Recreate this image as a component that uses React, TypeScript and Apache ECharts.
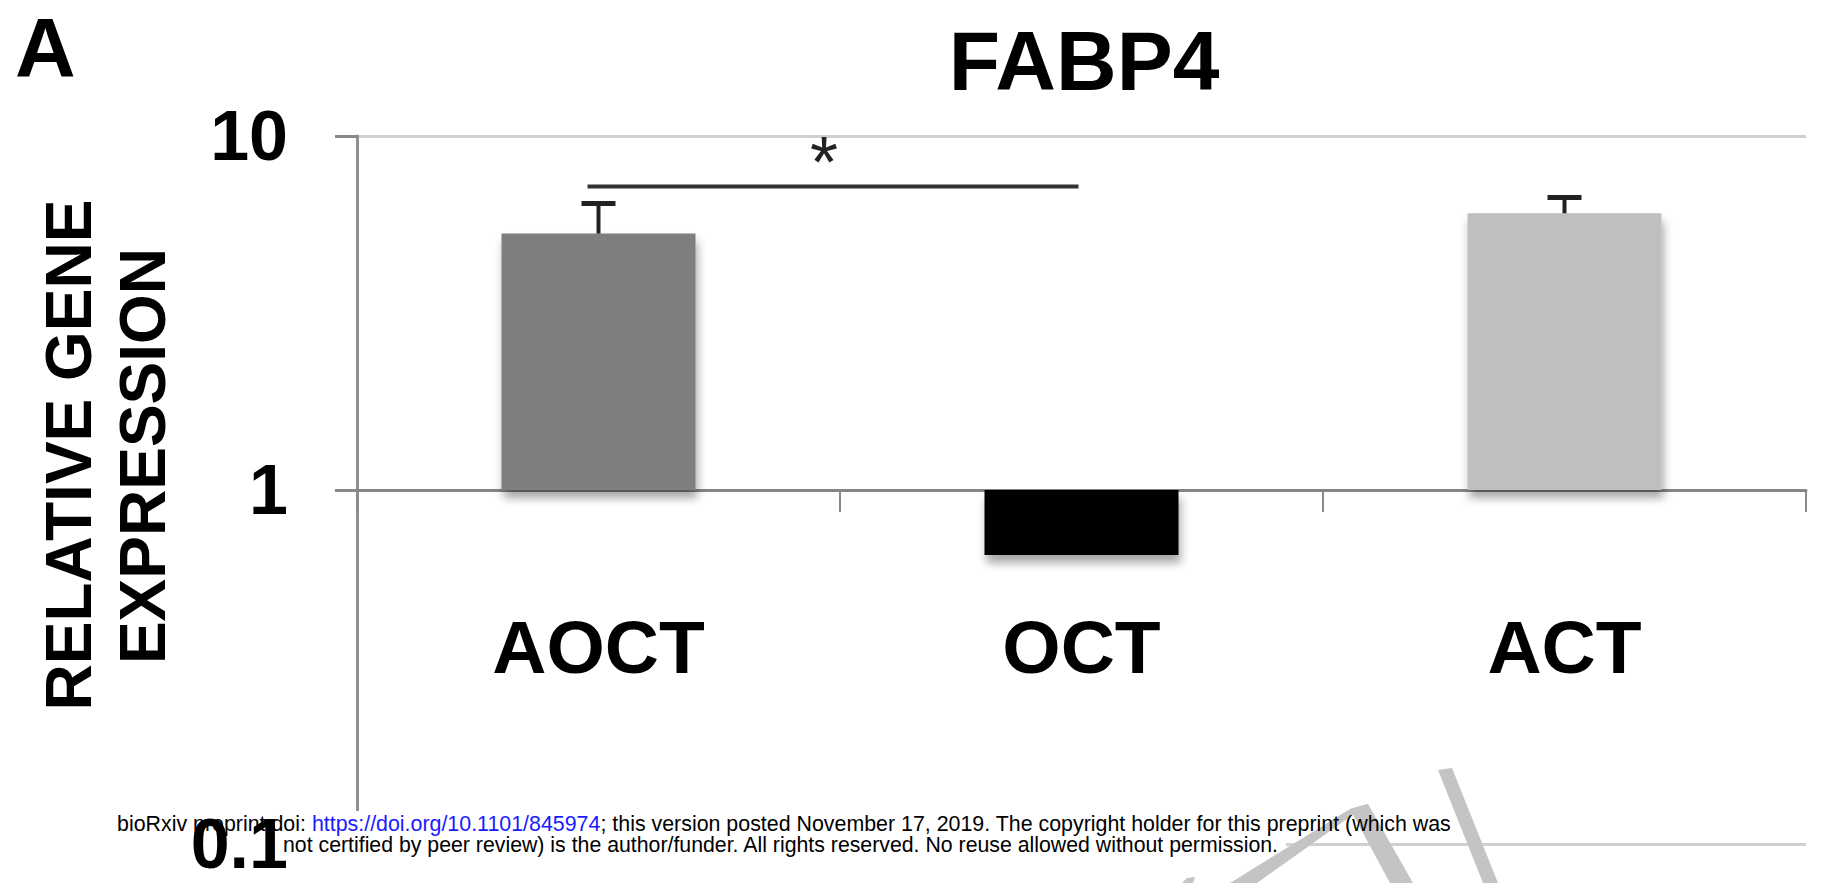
import React, { useEffect, useRef } from 'react';
import * as echarts from 'echarts';

// ---------- data ----------
const categories = ['AOCT', 'OCT', 'ACT'];
const meanValues = [5.3, 0.655, 6.05];
const errorUpper: (number | null)[] = [6.45, null, 6.7];
const barColors = ['#7f7f7f', '#000000', '#bfbfbf'];
const yMin = 0.1;
const yMax = 10;
const sigPair = [0, 1];
const sigLevel = 7.2;
const sigMark = '*';
const chartTitle = 'FABP4';
const panelLabel = 'A';
const yNameLines = ['RELATIVE GENE', 'EXPRESSION'];
const footerLink = 'https://doi.org/10.1101/845974';
const footerPre = 'bioRxiv preprint doi: ';
const footerPost = '; this version posted November 17, 2019. The copyright holder for this preprint (which was';
const footerLine2 = 'not certified by peer review) is the author/funder. All rights reserved. No reuse allowed without permission.';

const FONT = '"Liberation Sans", Arial, Helvetica, sans-serif';

function measure(text: string, font: string): number {
  const c = document.createElement('canvas');
  const ctx = c.getContext('2d');
  if (!ctx) return text.length * 10;
  ctx.font = font;
  return ctx.measureText(text).width;
}

export default function App() {
  const ref = useRef<HTMLDivElement>(null);

  useEffect(() => {
    if (!ref.current) return;
    const chart = echarts.init(ref.current, null, { renderer: 'svg' });

    const H = 883;
    const gridTop = 136;
    const gridBottom = 39;
    const gridLeft = 357;
    const gridRight = 22;
    const gridH = H - gridTop - gridBottom;
    const xOffset = -gridH * (Math.log10(1) - Math.log10(yMin)) / (Math.log10(yMax) - Math.log10(yMin));

    const footFont = `22px ${FONT}`;
    const l1w = measure(footerPre + footerLink + footerPost, footFont);
    const l2w = measure(footerLine2, footFont);
    const s1 = 1334 / l1w;
    const s2 = 997 / l2w;

    const errorData = errorUpper
      .map((u, i) => (u == null ? null : [i, meanValues[i], u]))
      .filter((d) => d !== null);

    const gray = '#c4c4c4';

    const option: any = {
      animation: false,
      backgroundColor: '#ffffff',
      grid: { left: gridLeft, right: gridRight, top: gridTop, bottom: gridBottom, containLabel: false },
      xAxis: {
        type: 'category',
        data: categories,
        position: 'bottom',
        offset: xOffset,
        axisLine: { onZero: false, lineStyle: { color: '#858585', width: 3 } },
        axisTick: { show: true, length: 22, alignWithLabel: false, lineStyle: { color: '#888888', width: 2 } },
        axisLabel: { fontSize: 75, fontWeight: 'bold', color: '#000', fontFamily: FONT, margin: 119 },
        splitLine: { show: false },
      },
      yAxis: [
        {
          type: 'log',
          logBase: 10,
          min: yMin,
          max: yMax,
          position: 'left',
          z: 20,
          axisLine: { show: false },
          axisTick: { show: false },
          splitLine: { show: false },
          axisLabel: {
            fontSize: 70,
            fontWeight: 'bold',
            color: '#000',
            fontFamily: FONT,
            margin: 69,
            padding: [11, 0, 0, 0],
            formatter: (v: number) => String(v),
          },
        },
        {
          type: 'log',
          logBase: 10,
          min: yMin,
          max: yMax,
          position: 'left',
          z: 0,
          axisLine: { show: true, lineStyle: { color: '#909090', width: 3 } },
          axisTick: { show: true, length: 22, lineStyle: { color: '#888888', width: 3 } },
          axisLabel: { show: false },
          splitLine: { show: true, lineStyle: { color: '#d0d0d0', width: 3 } },
        },
      ],
      series: [
        {
          type: 'bar',
          yAxisIndex: 0,
          barWidth: 194,
          data: meanValues.map((v, i) => ({
            value: v,
            itemStyle: {
              color: barColors[i],
              shadowColor: 'rgba(0,0,0,0.35)',
              shadowBlur: 10,
              shadowOffsetX: 2,
              shadowOffsetY: 8,
            },
          })),
          z: 2,
        },
        {
          type: 'custom',
          yAxisIndex: 0,
          z: 3,
          data: errorData,
          renderItem: (params: any, api: any) => {
            const x = api.value(0);
            const p0 = api.coord([x, api.value(1)]);
            const p1 = api.coord([x, api.value(2)]);
            const half = 17;
            return {
              type: 'group',
              children: [
                { type: 'line', shape: { x1: p0[0], y1: p0[1], x2: p1[0], y2: p1[1] }, style: { stroke: '#222', lineWidth: 4 } },
                { type: 'line', shape: { x1: p1[0] - half, y1: p1[1], x2: p1[0] + half, y2: p1[1] }, style: { stroke: '#222', lineWidth: 5 } },
              ],
            };
          },
        },
        {
          type: 'custom',
          yAxisIndex: 0,
          z: 3,
          data: [[sigPair[0], sigPair[1], sigLevel]],
          renderItem: (params: any, api: any) => {
            const a = api.coord([api.value(0), api.value(2)]);
            const b = api.coord([api.value(1), api.value(2)]);
            const x1 = a[0] - 11;
            const x2 = b[0] - 3;
            const y = a[1];
            return {
              type: 'group',
              children: [
                { type: 'line', shape: { x1, y1: y, x2, y2: y }, style: { stroke: '#333', lineWidth: 4 } },
                {
                  type: 'text',
                  x: (a[0] + b[0]) / 2 - 16,
                  y: y - 25,
                  style: { text: sigMark, fontSize: 72, fontFamily: FONT, fill: '#222', align: 'center', verticalAlign: 'middle' },
                },
              ],
            };
          },
        },
      ],
      graphic: {
        elements: [
          {
            type: 'text',
            x: 15,
            y: 48,
            z: 30,
            style: { text: panelLabel, fontSize: 84, fontWeight: 'bold', fontFamily: FONT, fill: '#000', textAlign: 'left', textVerticalAlign: 'middle' },
          },
          {
            type: 'text',
            x: 1084,
            y: 61,
            z: 30,
            style: { text: chartTitle, fontSize: 84, fontWeight: 'bold', fontFamily: FONT, fill: '#000', textAlign: 'center', textVerticalAlign: 'middle' },
          },
          {
            type: 'text',
            x: 69,
            y: 455,
            rotation: Math.PI / 2,
            z: 30,
            style: { text: yNameLines[0], fontSize: 64, fontWeight: 'bold', fontFamily: FONT, fill: '#000', textAlign: 'center', textVerticalAlign: 'middle' },
          },
          {
            type: 'text',
            x: 143,
            y: 456,
            rotation: Math.PI / 2,
            z: 30,
            style: { text: yNameLines[1], fontSize: 64, fontWeight: 'bold', fontFamily: FONT, fill: '#000', textAlign: 'center', textVerticalAlign: 'middle' },
          },
          // white boxes behind the preprint footer
          { type: 'rect', z: 10, shape: { x: 112, y: 811, width: 1344, height: 25 }, style: { fill: '#ffffff' } },
          { type: 'rect', z: 10, shape: { x: 278, y: 836, width: 1008, height: 20 }, style: { fill: '#ffffff' } },
          // watermark strokes
          { type: 'polygon', z: 15, shape: { points: [[1182, 883], [1193, 883], [1195, 877], [1187, 878]] }, style: { fill: gray } },
          { type: 'polygon', z: 15, shape: { points: [[1230, 883], [1257, 883], [1368, 804], [1350, 809]] }, style: { fill: gray } },
          { type: 'polygon', z: 15, shape: { points: [[1350, 809], [1368, 804], [1413, 883], [1390, 883]] }, style: { fill: gray } },
          { type: 'polygon', z: 15, shape: { points: [[1438, 770], [1452, 768], [1498, 883], [1483, 883]] }, style: { fill: gray } },
          {
            type: 'group',
            x: 117,
            y: 823,
            scaleX: s1,
            z: 30,
            children: [
              {
                type: 'text',
                x: 0,
                y: 0,
                z: 30,
                style: {
                  text: `{a|${footerPre}}{b|${footerLink}}{a|${footerPost}}`,
                  textVerticalAlign: 'middle',
                  textAlign: 'left',
                  rich: {
                    a: { fontSize: 22, fontFamily: FONT, fill: '#000' },
                    b: { fontSize: 22, fontFamily: FONT, fill: '#1a1aff' },
                  },
                },
              },
            ],
          },
          {
            type: 'group',
            x: 283,
            y: 844,
            scaleX: s2,
            z: 30,
            children: [
              {
                type: 'text',
                x: 0,
                y: 0,
                z: 30,
                style: { text: footerLine2, fontSize: 22, fontFamily: FONT, fill: '#000', textAlign: 'left', textVerticalAlign: 'middle' },
              },
            ],
          },
        ],
      },
    };

    chart.setOption(option);
    return () => chart.dispose();
  }, []);

  return <div ref={ref} style={{ position: 'fixed', left: 0, top: 0, width: 1828, height: 883, background: '#fff' }} />;
}
